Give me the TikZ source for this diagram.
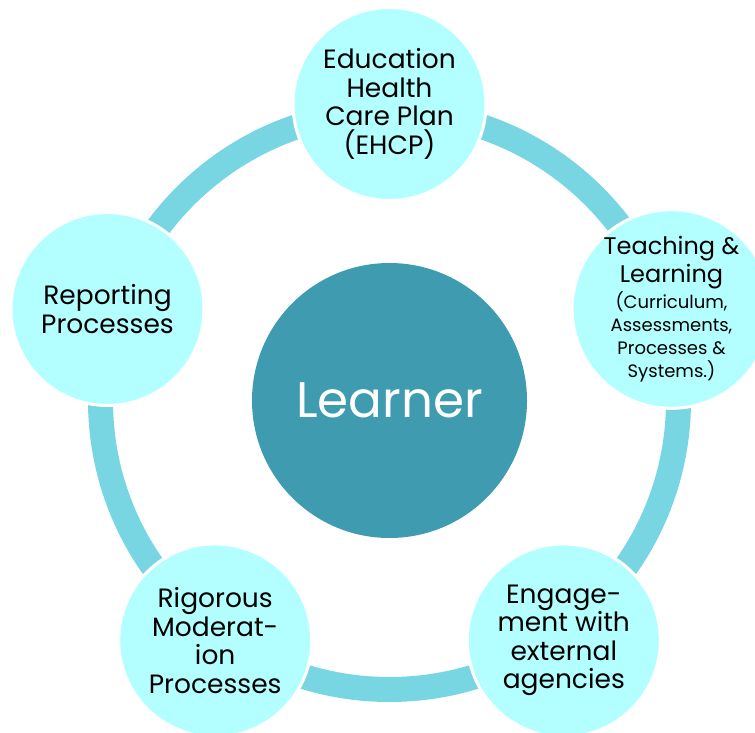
\documentclass[tikz,border=0pt]{standalone}
\usepackage{fontspec}
\setmainfont{Poppins}
\definecolor{ringcol}{HTML}{78D6E3}
\definecolor{satfill}{HTML}{B3FFFF}
\definecolor{learnerfill}{HTML}{3F9BAF}
\newcommand{\smalltxt}{\fontsize{18}{23}\selectfont}
\begin{document}
\begin{tikzpicture}[x=1pt,y=-1pt,
  sat/.style={circle, fill=satfill, draw=white, line width=3pt, minimum size=193pt, inner sep=0pt, align=center, text=black, font=\fontsize{26.5}{28.5}\selectfont}]
\useasboundingbox (0,0) rectangle (755,733);
\clip (0,0) rectangle (755,733);
\coordinate (c) at (389.5,400.5);
\draw[ringcol, line width=25pt] (c) circle[radius=289pt];
\node[circle, fill=learnerfill, minimum size=275pt, inner sep=0pt, text=white, font=\fontsize{50}{50}\selectfont] (learner) at (c) {Learner};
\node[sat] (ehcp) at (389.5,104) {Education\\Health\\Care Plan\\(EHCP)};
\node[sat, font=\fontsize{24}{28}\selectfont] (teach) at (671.5,309) {Teaching \&\\Learning\\[-2pt]{\smalltxt (Curriculum,}\\[-5pt]{\smalltxt Assessments,}\\[-5pt]{\smalltxt Processes \&}\\[-5pt]{\smalltxt Systems.)}};
\node[sat] (engage) at (563.8,640.4) {Engage-\\ment with\\external\\agencies};
\node[sat] (rigor) at (215.2,640.4) {Rigorous\\Moderat-\\ion\\Processes};
\node[sat] (report) at (107.5,309) {Reporting\\Processes};
\end{tikzpicture}
\end{document}
